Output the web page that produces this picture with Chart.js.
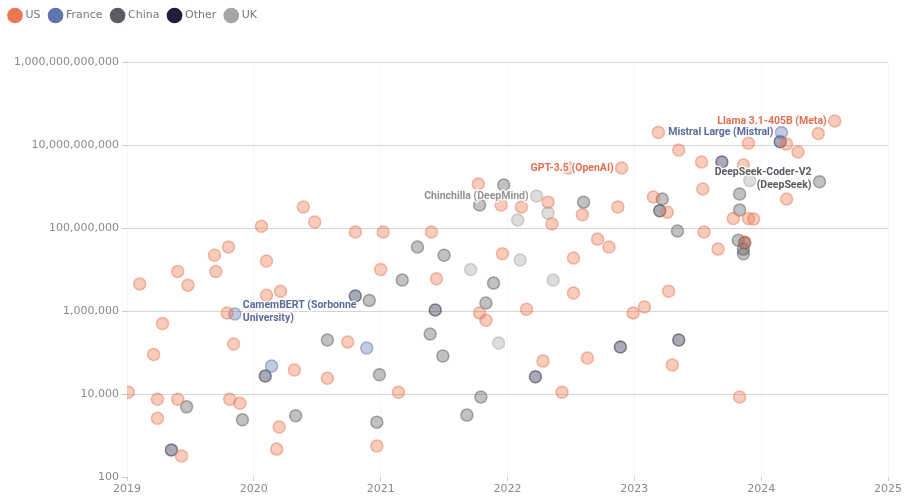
<!DOCTYPE html>
<html>
<head>
<meta charset="utf-8">
<title>Models by country</title>
<script src="https://cdn.jsdelivr.net/npm/chart.js@4.4.1/dist/chart.umd.min.js"></script>
<style>
  html, body { margin: 0; padding: 0; background: #fff; }
  #wrap { width: 906px; height: 499px; position: relative; }
</style>
</head>
<body>
<div id="wrap"><canvas id="modelsChart"></canvas></div>
<script>
// Release date (decimal year) and value for each model, grouped by country
const usYears = [2019.01, 2019.10, 2019.21, 2019.24, 2019.24, 2019.28, 2019.40, 2019.40, 2019.43, 2019.48,
  2019.69, 2019.70, 2019.80, 2019.79, 2019.81, 2019.84, 2019.89, 2020.06, 2020.10, 2020.10,
  2020.21, 2020.20, 2020.18, 2020.32, 2020.39, 2020.48, 2020.58, 2020.74, 2020.80, 2020.97,
  2021.00, 2021.02, 2021.14, 2021.40, 2021.44, 2021.77, 2021.78, 2021.83, 2021.95, 2021.96,
  2022.11, 2022.15, 2022.28, 2022.32, 2022.35, 2022.43, 2022.48, 2022.52, 2022.52, 2022.59,
  2022.63, 2022.71, 2022.80, 2022.87, 2022.90, 2022.99, 2023.08, 2023.15, 2023.26, 2023.19,
  2023.27, 2023.30, 2023.35, 2023.53, 2023.54, 2023.55, 2023.66, 2023.78, 2023.83, 2023.86,
  2023.90, 2023.90, 2023.94, 2023.87, 2024.20, 2024.29, 2024.20, 2024.45, 2024.58];
const usValues = [1.1e4, 4.5e6, 9e4, 7.5e3, 2.6e3, 5e5, 9e6, 7.5e3, 320, 4.2e6,
  2.2e7, 9e6, 3.5e7, 9e5, 7.5e3, 1.6e5, 6e3, 1.1e8, 1.6e7, 2.4e6,
  3e6, 1.6e3, 470, 3.8e4, 3.2e8, 1.4e8, 2.4e4, 1.8e5, 8e7, 560,
  1e7, 8e7, 1.1e4, 8e7, 6e6, 1.15e9, 9e5, 6e5, 3.6e8, 2.4e7,
  3.2e8, 1.1e6, 6.2e4, 4.2e8, 1.25e8, 1.1e4, 2.8e9, 1.9e7, 2.7e6, 2.1e8,
  7.4e4, 5.4e7, 3.5e7, 3.2e8, 2.8e9, 9e5, 1.25e6, 5.6e8, 2.4e8, 2e10,
  3e6, 5e4, 7.6e9, 3.9e9, 8.7e8, 8e7, 3.1e7, 1.7e8, 8.5e3, 3.3e9,
  1.1e10, 1.7e8, 1.65e8, 4.6e7, 1.06e10, 6.8e9, 5e8, 1.9e10, 3.8e10];

const franceYears = [2019.85, 2020.14, 2020.89, 2024.16];
const franceValues = [8.5e5, 4.7e4, 1.28e5, 2e10];

const chinaYears = [2019.47, 2019.91, 2020.33, 2020.58, 2020.91, 2020.97, 2020.99, 2021.17, 2021.29, 2021.50,
  2021.39, 2021.49, 2021.68, 2021.79, 2021.78, 2021.83, 2021.89, 2021.97, 2022.60, 2023.22,
  2023.34, 2023.83, 2023.83, 2023.82, 2023.86, 2023.86, 2024.46];
const chinaValues = [4.9e3, 2.4e3, 3e3, 2e5, 1.8e6, 2.1e3, 2.9e4, 5.6e6, 3.5e7, 2.2e7,
  2.8e5, 8.2e4, 3.1e3, 8.5e3, 3.6e8, 1.56e6, 4.7e6, 1.09e9, 4.2e8, 5e8,
  8.5e7, 6.6e8, 2.7e8, 5.1e7, 3.1e7, 2.4e7, 1.3e9];

const otherYears = [2019.35, 2020.09, 2020.80, 2021.43, 2022.22, 2022.89, 2023.20, 2023.35, 2023.69, 2023.87, 2024.15];
const otherValues = [450, 2.7e4, 2.3e6, 1.06e6, 2.6e4, 1.36e5, 2.6e8, 2e5, 3.9e9, 4.4e7, 1.2e10];

const ukYears = [2021.71, 2021.93, 2022.08, 2022.10, 2022.23, 2022.32, 2022.36, 2023.91];
const ukValues = [1e7, 1.7e5, 1.56e8, 1.7e7, 5.9e8, 2.3e8, 5.6e6, 1.4e9];

const countries = ['US', 'France', 'China', 'Other', 'UK'];
const yTicks = [1e2, 1e4, 1e6, 1e8, 1e10, 1e12];
const xTicks = [2019, 2020, 2021, 2022, 2023, 2024, 2025];

// Named models, pointing at one of the dots above
const calloutText = [
  ['Llama 3.1-405B (Meta)'],
  ['Mistral Large (Mistral)'],
  ['GPT-3.5 (OpenAI)'],
  ['Chinchilla (DeepMind)'],
  ['DeepSeek-Coder-V2', '(DeepSeek)'],
  ['CamemBERT (Sorbonne', 'University)']
];
const calloutYears = [2024.58, 2024.16, 2022.90, 2022.23, 2024.46, 2019.85];
const calloutValues = [3.8e10, 2e10, 2.8e9, 5.9e8, 1.3e9, 8.5e5];
const calloutCountry = ['US', 'France', 'US', 'UK', 'China', 'France'];

const colorOf = {
  US: '234, 120, 82',
  France: '98, 116, 176',
  China: '92, 92, 98',
  Other: '30, 32, 62',
  UK: '165, 165, 168'
};
const textColorOf = {
  US: '#e36e50',
  France: '#5a6a9c',
  China: '#585a60',
  UK: '#939397'
};

function toPoints(years, values) {
  return years.map((x, i) => ({ x: x, y: values[i] }));
}

const seriesData = {
  US: toPoints(usYears, usValues),
  France: toPoints(franceYears, franceValues),
  China: toPoints(chinaYears, chinaValues),
  Other: toPoints(otherYears, otherValues),
  UK: toPoints(ukYears, ukValues)
};

function initializeChart() {
  const ctx = document.getElementById('modelsChart').getContext('2d');

  const datasets = countries.map(name => ({
    label: name,
    data: seriesData[name],
    backgroundColor: 'rgba(' + colorOf[name] + ', 0.38)',
    borderColor: 'rgba(' + colorOf[name] + ', 0.5)',
    borderWidth: 1.5,
    pointRadius: 6,
    pointHoverRadius: 6
  }));

  // keep some room between the legend and the plot
  const legendSpacer = {
    id: 'legendSpacer',
    beforeInit(chart) {
      const fit = chart.legend.fit;
      chart.legend.fit = function () {
        fit.call(this);
        this.height += 31;
      };
    }
  };

  // text labels next to the highlighted models
  const calloutPlugin = {
    id: 'callouts',
    afterDatasetsDraw(chart) {
      const c = chart.ctx;
      const xs = chart.scales.x;
      const ys = chart.scales.y;
      c.save();
      c.font = 'bold 10.5px Roboto';
      c.textBaseline = 'middle';
      c.lineJoin = 'round';
      calloutText.forEach((lines, i) => {
        const px = xs.getPixelForValue(calloutYears[i]);
        const py = ys.getPixelForValue(calloutValues[i]);
        const onRight = i === 5;
        c.textAlign = onRight ? 'left' : 'right';
        const tx = onRight ? px + 8 : px - 8;
        lines.forEach((line, j) => {
          const ty = lines.length > 1 ? py - 9 + j * 13 : py;
          c.strokeStyle = 'rgba(255,255,255,0.85)';
          c.lineWidth = 3;
          c.strokeText(line, tx, ty);
          c.fillStyle = textColorOf[calloutCountry[i]];
          c.fillText(line, tx, ty);
        });
      });
      c.restore();
    }
  };

  new Chart(ctx, {
    type: 'scatter',
    data: { datasets: datasets },
    options: {
      responsive: true,
      maintainAspectRatio: false,
      animation: false,
      layout: { padding: { top: 0, right: 18, bottom: 0, left: 0 } },
      plugins: {
        legend: {
          position: 'top',
          align: 'start',
          labels: {
            usePointStyle: true,
            pointStyle: 'circle',
            boxWidth: 10,
            boxHeight: 10,
            padding: 10,
            color: '#777',
            font: { family: 'DejaVu Sans', size: 11 },
            generateLabels(chart) {
              return Chart.defaults.plugins.legend.labels.generateLabels(chart).map(item => {
                const name = countries[item.datasetIndex];
                item.fillStyle = 'rgb(' + colorOf[name] + ')';
                item.strokeStyle = 'rgb(' + colorOf[name] + ')';
                return item;
              });
            }
          }
        },
        tooltip: { enabled: false }
      },
      scales: {
        x: {
          type: 'linear',
          min: 2019,
          max: 2025,
          afterBuildTicks(scale) {
            scale.ticks = xTicks.map(v => ({ value: v }));
          },
          afterFit(scale) { scale.height = 22; },
          ticks: {
            color: '#8a8a8a',
            font: { family: 'DejaVu Sans', size: 11 },
            padding: 2,
            maxRotation: 0,
            callback: v => String(v)
          },
          grid: {
            color: 'rgba(0,0,0,0.035)',
            tickLength: 4,
            tickColor: '#ccc'
          },
          border: { display: false }
        },
        y: {
          type: 'logarithmic',
          min: 1e2,
          max: 1e12,
          afterBuildTicks(scale) {
            scale.ticks = yTicks.map(v => ({ value: v }));
          },
          afterFit(scale) { scale.width = 127; },
          ticks: {
            color: '#8a8a8a',
            font: { family: 'DejaVu Sans', size: 11 },
            padding: 3,
            callback: v => Number(v).toLocaleString('en-US')
          },
          grid: {
            color: c => (c.tick && c.tick.value === 1e2 ? 'rgba(0,0,0,0)' : '#d6d6d6'),
            tickLength: 5,
            tickColor: '#c8c8c8'
          },
          border: { display: false }
        }
      }
    },
    plugins: [legendSpacer, calloutPlugin]
  });
}

document.addEventListener('DOMContentLoaded', () => {
  initializeChart();
});
</script>
</body>
</html>
